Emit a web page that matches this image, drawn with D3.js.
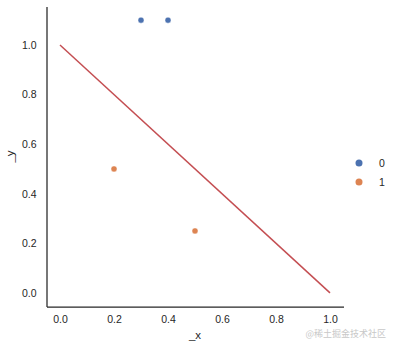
<!DOCTYPE html>
<html><head><meta charset="utf-8">
<script src="https://cdn.jsdelivr.net/npm/d3@7"></script>
<style>body{margin:0;background:#fff}svg{display:block}text{font-family:"Liberation Sans",Arial,sans-serif}</style>
</head><body>
<script>
const xValues = [0.3, 0.4, 0.2, 0.5];
const yValues = [1.1, 1.1, 0.5, 0.25];
const classes = ["0", "0", "1", "1"];
const lineX = [0, 1];
const lineY = [1, 0];
const legendLabels = ["0", "1"];
const xTicks = [0, 0.2, 0.4, 0.6, 0.8, 1.0];
const yTicks = [0, 0.2, 0.4, 0.6, 0.8, 1.0];

const W = 395, H = 348;
const svg = d3.select("body").append("svg").attr("width", W).attr("height", H);
const x = d3.scaleLinear().domain([-0.05, 1.05]).range([46.5, 343.5]);
const y = d3.scaleLinear().domain([-0.055, 1.155]).range([306.5, 6.5]);
const color = d3.scaleOrdinal().domain(legendLabels).range(["#4c72b0", "#dd8452"]);
const txt = "#262626";

// axes
const xAxis = svg.append("g").attr("transform", "translate(0,306.5)")
  .call(d3.axisBottom(x).tickValues(xTicks).tickFormat(d3.format(".1f")).tickSize(0).tickPadding(9));
xAxis.select(".domain").attr("stroke", "#262626").attr("stroke-width", 1.25);
xAxis.selectAll("text").attr("fill", txt).style("font-size", "10.5px").style("font-family", "'Liberation Sans',Arial,sans-serif");
const yAxis = svg.append("g").attr("transform", "translate(46.5,0)")
  .call(d3.axisLeft(y).tickValues(yTicks).tickFormat(d3.format(".1f")).tickSize(0).tickPadding(10));
yAxis.select(".domain").attr("stroke", "#262626").attr("stroke-width", 1.25);
yAxis.selectAll("text").attr("fill", txt).style("font-size", "10.5px").style("font-family", "'Liberation Sans',Arial,sans-serif");

// line
svg.append("path").datum(lineX.map((d, i) => [d, lineY[i]]))
  .attr("d", d3.line().x(d => x(d[0])).y(d => y(d[1])))
  .attr("fill", "none").attr("stroke", "#c44e52").attr("stroke-width", 1.5);

// points
svg.selectAll("circle.pt").data(xValues.map((d, i) => ({x: d, y: yValues[i], c: classes[i]})))
  .join("circle").attr("class", "pt")
  .attr("cx", d => x(d.x)).attr("cy", d => y(d.y)).attr("r", 3)
  .attr("fill", d => color(d.c)).attr("stroke", "#fff").attr("stroke-width", 0.4);

// axis labels
svg.append("text").attr("x", x(0.5)).attr("y", 339).attr("text-anchor", "middle")
  .attr("fill", txt).style("font-size", "11.5px").text("_x");
svg.append("text").attr("transform", `translate(14,${y(0.55)}) rotate(-90)`).attr("text-anchor", "middle")
  .attr("fill", txt).style("font-size", "11.5px").text("_y");

// legend
const leg = svg.append("g");
legendLabels.forEach((l, i) => {
  const g = leg.append("g").attr("transform", `translate(0,${163 + i * 19})`);
  g.append("circle").attr("cx", 359).attr("cy", 0).attr("r", 3.5).attr("fill", color(l));
  g.append("text").attr("x", 379).attr("y", 0).attr("dy", "0.35em").attr("fill", txt)
    .style("font-size", "10.5px").text(l);
});

// watermark
svg.append("text").attr("x", 386).attr("y", 337).attr("text-anchor", "end")
  .attr("fill", "#c8c8c8").style("font-size", "9px")
  .style("font-family", "'Noto Sans CJK SC', sans-serif").text("@稀土掘金技术社区");
</script>
</body></html>
